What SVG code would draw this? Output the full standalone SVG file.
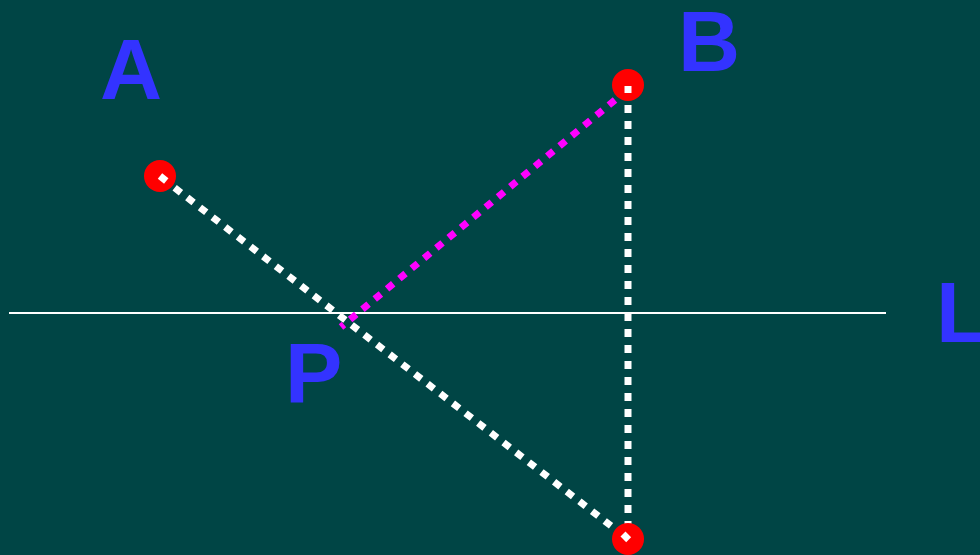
<svg xmlns="http://www.w3.org/2000/svg" width="980" height="555" viewBox="0 0 980 555">
<style>
.lbl{font-family:"Liberation Sans",Arial,sans-serif;font-weight:bold;font-size:86px;fill:#3333ff}
.pt{fill:#ff0000}
.wd{stroke:#ffffff;stroke-width:7;stroke-dasharray:8 8;fill:none}
.md{stroke:#ff00ff;stroke-width:7;stroke-dasharray:8 8;fill:none}
</style>
<rect width="980" height="555" fill="#004545"/>
<g id="connectors">
<line x1="9" y1="313" x2="886" y2="313" stroke="#ffffff" stroke-width="2"/>
<line class="wd" x1="162" y1="178" x2="628" y2="539"/>
<line class="wd" x1="628" y1="89" x2="628" y2="539"/>
<line class="md" x1="615" y1="100" x2="341" y2="327"/>
</g>
<g id="A"><circle class="pt" cx="160" cy="176" r="16"/><line class="wd" x1="160" y1="176" x2="170" y2="184"/><text class="lbl" x="100" y="99">A</text></g>
<g id="B"><circle class="pt" cx="628" cy="85" r="16"/><line class="wd" x1="628" y1="86" x2="628" y2="93"/><text class="lbl" x="678" y="71">B</text></g>
<g id="Bp"><circle class="pt" cx="628" cy="539" r="16"/><line class="wd" x1="623" y1="534" x2="629" y2="540"/></g>
<g id="P"><text class="lbl" x="285" y="403">P</text></g>
<g id="L"><text class="lbl" x="936" y="342">L</text></g>
</svg>
